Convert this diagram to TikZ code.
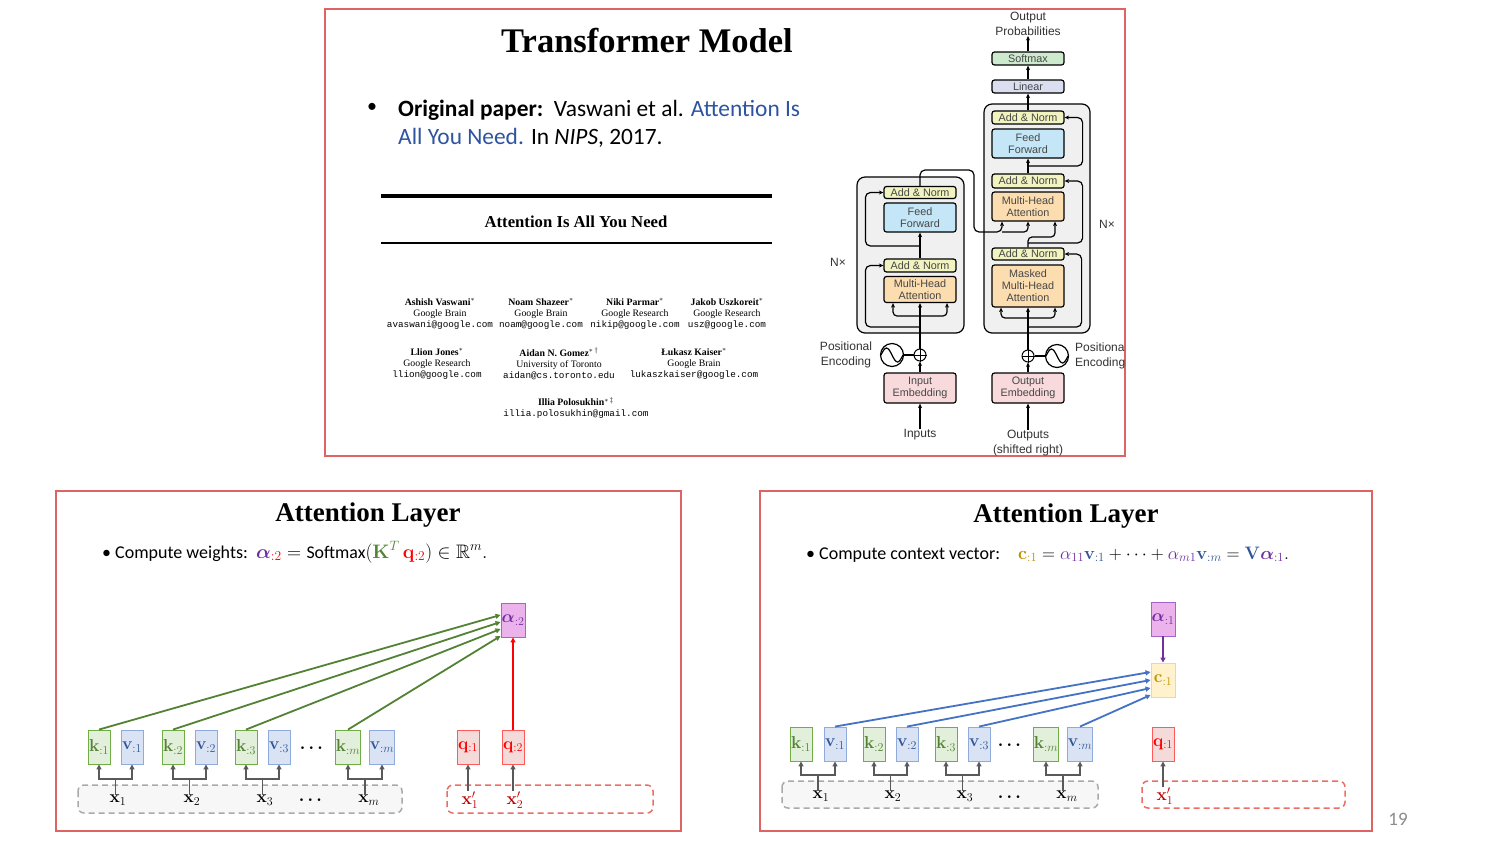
\documentclass[tikz,border=0pt]{standalone}
\usepackage{amsmath}
\usepackage{amssymb}
\usepackage{bm}
\usepackage{graphicx}
\usepackage[no-math]{fontspec}
\setmainfont{Carlito}
\newfontfamily\helvfont{Liberation Sans}
\newfontfamily\timesfont{Liberation Serif}
\newfontfamily\courfont{Liberation Mono}
\usetikzlibrary{arrows.meta,calc}

\definecolor{panelred}{RGB}{222,100,100}
\definecolor{linkblue}{RGB}{46,84,161}
\definecolor{apurple}{RGB}{112,48,160}
\definecolor{qred}{RGB}{255,0,0}
\definecolor{xred}{RGB}{192,0,0}
\definecolor{kgreen}{RGB}{84,130,53}
\definecolor{vblue}{RGB}{47,85,151}
\definecolor{varrowblue}{RGB}{68,114,196}
\definecolor{cgold}{RGB}{191,144,0}
\definecolor{kfill}{RGB}{226,239,218}
\definecolor{kborder}{RGB}{112,173,71}
\definecolor{vfill}{RGB}{218,227,243}
\definecolor{vborder}{RGB}{143,170,220}
\definecolor{qfill}{RGB}{245,218,218}
\definecolor{qborder}{RGB}{255,90,90}
\definecolor{afill}{RGB}{236,178,236}
\definecolor{aborder}{RGB}{165,100,200}
\definecolor{cfill}{RGB}{255,242,204}
\definecolor{cborder}{RGB}{255,217,102}
\definecolor{arrowgray}{RGB}{89,89,89}
\definecolor{dashgray}{RGB}{170,170,170}
\definecolor{dashfill}{RGB}{247,247,247}
\definecolor{dashred}{RGB}{235,110,100}
\definecolor{anfill}{RGB}{241,243,192}
\definecolor{fffill}{RGB}{196,230,246}
\definecolor{mhafill}{RGB}{252,221,176}
\definecolor{embfill}{RGB}{248,218,220}
\definecolor{smfill}{RGB}{206,234,206}
\definecolor{linfill}{RGB}{218,222,240}
\definecolor{blockgray}{RGB}{240,240,240}

\begin{document}
\begin{tikzpicture}[x=1pt,y=-1pt]
			\tikzstyle{every node}+=[inner sep=0pt]
			\tikzstyle{panel}=[draw=panelred, line width=1.3pt]
			\tikzstyle{tbox}=[draw, line width=1.2pt, rounded corners=2.5pt, minimum width=72pt, align=center, font=\helvfont\fontsize{10.8}{12}\selectfont, text=black!72]
			\tikzstyle{tarrow}=[line width=1.2pt, -{Stealth[length=4.5pt,width=4pt]}]
			\tikzstyle{tline}=[line width=1.2pt]
			\tikzstyle{ttext}=[font=\helvfont\fontsize{12}{15}\selectfont, text=black!80, align=center]
			\tikzstyle{author}=[align=center, font=\timesfont\fontsize{9.8}{11}\selectfont]
			\tikzstyle{kbox}=[draw=kborder, fill=kfill, line width=0.9pt, minimum width=22pt, minimum height=34pt, text=kgreen, font=\fontsize{17.28}{19}\selectfont]
			\tikzstyle{vbox}=[draw=vborder, fill=vfill, line width=0.9pt, minimum width=22pt, minimum height=34pt, text=vblue, font=\fontsize{17.28}{19}\selectfont]
			\tikzstyle{qbox}=[draw=qborder, fill=qfill, line width=0.9pt, minimum width=22pt, minimum height=34pt, text=qred, font=\fontsize{17.28}{19}\selectfont]
			\tikzstyle{abox}=[draw=aborder, fill=afill, line width=0.9pt, minimum width=24pt, minimum height=34pt, text=apurple, font=\fontsize{17.28}{19}\selectfont]
			\tikzstyle{cbox}=[draw=cborder, fill=cfill, line width=0.9pt, minimum width=24pt, minimum height=34pt, text=cgold, font=\fontsize{17.28}{19}\selectfont]
			\tikzstyle{xlbl}=[font=\fontsize{17.28}{20}\selectfont]
			\tikzstyle{dotlbl}=[font=\fontsize{17.28}{20}\selectfont]
			\tikzstyle{garrow}=[draw=arrowgray, line width=1.8pt, -{Triangle[length=5pt,width=5pt]}]
			\tikzstyle{karrow}=[draw=kgreen, line width=1.8pt, -{Triangle[length=5pt,width=5pt]}]
			\tikzstyle{varrow}=[draw=varrowblue, line width=1.8pt, -{Triangle[length=5pt,width=5pt]}]
			\tikzstyle{qarrow}=[draw=qred, line width=1.8pt, -{Triangle[length=5pt,width=5pt]}]
			\tikzstyle{parrow}=[draw=apurple, line width=1.8pt, -{Triangle[length=5pt,width=5pt]}]
			\tikzstyle{gdash}=[draw=dashgray, fill=dashfill, line width=1.5pt, dash pattern=on 6pt off 4pt, rounded corners=6pt]
			\tikzstyle{rdash}=[draw=dashred, line width=1.5pt, dash pattern=on 6pt off 4pt, rounded corners=6pt]
			\useasboundingbox [fill=white] (0,0) rectangle (1511,847);
			% top panel
			\draw [panel] (325,9) rectangle (1125,456);
			\node [anchor=base, font=\timesfont\bfseries\fontsize{34.5}{38}\selectfont] (mainTitle) at (647,52) {Transformer Model};
			\node [font=\fontsize{20}{22}\selectfont] (bullet) at (372,108) {•};
			\node [anchor=base west, font=\fontsize{23.4}{28}\selectfont] (paperLineA) at (398,116) {\textbf{Original paper:}\ \ Vaswani et al. \textcolor{linkblue}{Attention Is}};
			\node [anchor=base west, font=\fontsize{23.4}{28}\selectfont] (paperLineB) at (398,144) {\textcolor{linkblue}{All You Need.} In \textit{NIPS}, 2017.};
			\draw [line width=3.5pt] (381,196) -- (772,196);
			\node [font=\timesfont\bfseries\fontsize{16.7}{18}\selectfont] (paperTitle) at (576,222) {Attention Is All You Need};
			\draw [line width=1.2pt] (381,243) -- (772,243);
			\node [author] (vaswani) at (440,314) {\textbf{Ashish Vaswani}$^{*}$\\Google Brain\\{\courfont\fontsize{9.3}{11}\selectfont avaswani@google.com}};
			\node [author] (shazeer) at (541,314) {\textbf{Noam Shazeer}$^{*}$\\Google Brain\\{\courfont\fontsize{9.3}{11}\selectfont noam@google.com}};
			\node [author] (parmar) at (635,314) {\textbf{Niki Parmar}$^{*}$\\Google Research\\{\courfont\fontsize{9.3}{11}\selectfont nikip@google.com}};
			\node [author] (uszkoreit) at (727,314) {\textbf{Jakob Uszkoreit}$^{*}$\\Google Research\\{\courfont\fontsize{9.3}{11}\selectfont usz@google.com}};
			\node [author] (jones) at (437,364) {\textbf{Llion Jones}$^{*}$\\Google Research\\{\courfont\fontsize{9.3}{11}\selectfont llion@google.com}};
			\node [author] (gomez) at (559,364) {\textbf{Aidan N. Gomez}$^{*\,\dagger}$\\University of Toronto\\{\courfont\fontsize{9.3}{11}\selectfont aidan@cs.toronto.edu}};
			\node [author] (kaiser) at (694,364) {\textbf{Łukasz Kaiser}$^{*}$\\Google Brain\\{\courfont\fontsize{9.3}{11}\selectfont lukaszkaiser@google.com}};
			\node [author] (polosukhin) at (576,408) {\textbf{Illia Polosukhin}$^{*\,\ddagger}$\\{\courfont\fontsize{9.3}{11}\selectfont illia.polosukhin@gmail.com}};
			% transformer blocks
			\draw [fill=blockgray, line width=1.2pt, rounded corners=8pt] (857,177) rectangle (964,333);
			\draw [fill=blockgray, line width=1.2pt, rounded corners=8pt] (984,104) rectangle (1090,333);
			\node [tbox, fill=anfill, minimum height=12pt] (encAN1) at (920,192.5) {Add \& Norm};
			\node [tbox, fill=fffill, minimum height=29pt] (encFF) at (920,217.5) {Feed\\Forward};
			\node [tbox, fill=anfill, minimum height=13pt] (encAN2) at (920,265.5) {Add \& Norm};
			\node [tbox, fill=mhafill, minimum height=26pt] (encMHA) at (920,289.5) {Multi-Head\\Attention};
			\node [tbox, fill=embfill, minimum height=30pt] (inEmb) at (920,388) {Input\\Embedding};
			\node [tbox, fill=smfill, minimum height=13pt] (softmax) at (1028,58.5) {Softmax};
			\node [tbox, fill=linfill, minimum height=13pt] (linear) at (1028,86.5) {Linear};
			\node [tbox, fill=anfill, minimum height=13pt] (decAN1) at (1028,117.5) {Add \& Norm};
			\node [tbox, fill=fffill, minimum height=29pt] (decFF) at (1028,143.5) {Feed\\Forward};
			\node [tbox, fill=anfill, minimum height=14pt] (decAN2) at (1028,181) {Add \& Norm};
			\node [tbox, fill=mhafill, minimum height=29pt] (decMHA) at (1028,206.5) {Multi-Head\\Attention};
			\node [tbox, fill=anfill, minimum height=12pt] (decAN3) at (1028,254) {Add \& Norm};
			\node [tbox, fill=mhafill, minimum height=42pt] (decMMHA) at (1028,286) {Masked\\Multi-Head\\Attention};
			\node [tbox, fill=embfill, minimum height=30pt] (outEmb) at (1028,388) {Output\\Embedding};
			\node [draw, circle, line width=1pt, minimum size=12pt] (encPlus) at (920,355) {};
			\draw [line width=1pt] (encPlus.north) -- (encPlus.south) (encPlus.west) -- (encPlus.east);
			\node [draw, circle, line width=1.2pt, minimum size=23pt] (encSin) at (892,355) {};
			\draw [line width=1.2pt] ($(encSin.center)+(-11,0)$) sin ++(5.5,-7) cos ++(5.5,7) sin ++(5.5,7) cos ++(5.5,-7);
			\node [draw, circle, line width=1pt, minimum size=12pt] (decPlus) at (1028,356) {};
			\draw [line width=1pt] (decPlus.north) -- (decPlus.south) (decPlus.west) -- (decPlus.east);
			\node [draw, circle, line width=1.2pt, minimum size=23pt] (decSin) at (1057,356) {};
			\draw [line width=1.2pt] ($(decSin.center)+(-11,0)$) sin ++(5.5,-7) cos ++(5.5,7) sin ++(5.5,7) cos ++(5.5,-7);
			\node [ttext] (outProb) at (1028,24) {Output\\Probabilities};
			\node [ttext] (inputs) at (920,435) {Inputs};
			\node [ttext] (outputs) at (1028,443) {Outputs\\(shifted right)};
			\node [ttext] (encPE) at (846,355) {Positional\\Encoding};
			\node [ttext] (encN) at (838,262) {N×};
			\node [ttext] (decN) at (1107,224) {N×};
			\begin{scope}
			\clip (1060,330) rectangle (1124,380);
			\node [ttext, align=left, anchor=west] (decPE) at (1075,356) {Positional\\Encoding};
			\end{scope}
			% encoder flow
			\draw [tarrow] (inputs) -- (inEmb);
			\draw [tarrow] (inEmb) -- (encPlus);
			\draw [tline] (encSin) -- (encPlus);
			\draw [tarrow] (encPlus) -- (encMHA);
			\coordinate (encBr) at (920,316);
			\draw [tarrow, rounded corners=4pt] (encBr) -| ([xshift=-27pt]encMHA.south);
			\draw [tarrow, rounded corners=4pt] (encBr) -| ([xshift=27pt]encMHA.south);
			\coordinate (encR2) at (920,327);
			\draw [tarrow, rounded corners=5pt] (encR2) -| ([xshift=-18pt]encAN2.west) -- (encAN2.west);
			\draw [tarrow] (encAN2) -- (encFF);
			\coordinate (encR1) at (920,246);
			\draw [tarrow, rounded corners=5pt] (encR1) -| ([xshift=-18pt]encAN1.west) -- (encAN1.west);
			\coordinate (kv) at (1002,232);
			\draw [tarrow, rounded corners=5pt] (encAN1.north) |- (974,170) |- (kv) -- ([xshift=-26pt]decMHA.south);
			\draw [tarrow, rounded corners=4pt] (kv) -| (decMHA.south);
			% decoder flow
			\draw [tarrow] (outputs) -- (outEmb);
			\draw [tarrow] (outEmb) -- (decPlus);
			\draw [tline] (decPlus) -- (decSin);
			\draw [tarrow] (decPlus) -- (decMMHA);
			\coordinate (decBr) at (1028,318);
			\draw [tarrow, rounded corners=4pt] (decBr) -| ([xshift=-27pt]decMMHA.south);
			\draw [tarrow, rounded corners=4pt] (decBr) -| ([xshift=27pt]decMMHA.south);
			\coordinate (decR3) at (1028,327);
			\draw [tarrow, rounded corners=5pt] (decR3) -| ([xshift=17pt]decAN3.east) -- (decAN3.east);
			\draw [tarrow, rounded corners=4pt] (decAN3.north) |- (1042,237) -| ([xshift=27pt]decMHA.south);
			\coordinate (decR2) at (1028,243);
			\draw [tarrow, rounded corners=5pt] (decR2) -| ([xshift=18pt]decAN2.east) -- (decAN2.east);
			\draw [tarrow] (decAN2) -- (decFF);
			\coordinate (decR1) at (1028,166);
			\draw [tarrow, rounded corners=5pt] (decR1) -| ([xshift=18pt]decAN1.east) -- (decAN1.east);
			\draw [tarrow] (decAN1) -- (linear);
			\draw [tarrow] (linear) -- (softmax);
			\draw [tarrow] (softmax) -- (outProb);
			% bottom left panel
			\draw [panel] (56,491) rectangle (681,831);
			\node [anchor=base, font=\timesfont\bfseries\fontsize{27}{30}\selectfont] (titleA) at (368,521) {Attention Layer};
			\node [anchor=base west, font=\fontsize{18}{22}\selectfont] (formulaA) at (102,558) {•\ Compute weights:\ \ \scalebox{0.94}{\fontsize{20.74}{22}\selectfont$ {\color{apurple}\bm{\alpha}_{\color{qred}:2}} = \text{\fontsize{19}{22}\selectfont Softmax}({\color{kgreen}\mathbf{K}^{T}}\,{\color{qred}\mathbf{q}_{:2}}) \in \mathbb{R}^{m}.$}};
			\draw [gdash] (78,785) rectangle (402,813);
			\draw [rdash] (447,785) rectangle (653,813);
			\node [kbox] (ka1) at (99,747) {$\mathbf{k}_{:1}$};
			\node [vbox] (va1) at (132,747) {$\mathbf{v}_{:1}$};
			\node [kbox] (ka2) at (173,747) {$\mathbf{k}_{:2}$};
			\node [vbox] (va2) at (206,747) {$\mathbf{v}_{:2}$};
			\node [kbox] (ka3) at (246,747) {$\mathbf{k}_{:3}$};
			\node [vbox] (va3) at (279,747) {$\mathbf{v}_{:3}$};
			\node [dotlbl] (dotsA) at (313,748) {$\bm{\cdots}$};
			\node [kbox] (kam) at (348,747) {$\mathbf{k}_{:m}$};
			\node [vbox] (vam) at (382,747) {$\mathbf{v}_{:m}$};
			\node [qbox] (qa1) at (468,747) {$\mathbf{q}_{:1}$};
			\node [qbox] (qa2) at (513,747) {$\mathbf{q}_{:2}$};
			\node [abox] (alphaA) at (513,620) {$\bm{\alpha}_{:2}$};
			\node [xlbl] (xa1) at (118,800) {$\mathbf{x}_{1}$};
			\node [xlbl] (xa2) at (192,800) {$\mathbf{x}_{2}$};
			\node [xlbl] (xa3) at (265,800) {$\mathbf{x}_{3}$};
			\node [dotlbl] (xdotsA) at (312,800) {$\bm{\cdots}$};
			\node [xlbl] (xam) at (369,800) {$\mathbf{x}_{m}$};
			\node [xlbl, text=xred] (xpa1) at (470,800) {$\mathbf{x}'_{1}$};
			\node [xlbl, text=xred] (xpa2) at (515,800) {$\mathbf{x}'_{2}$};
			\coordinate (sa1) at (115.5,779);
			\coordinate (sa2) at (189.5,779);
			\coordinate (sa3) at (262.5,779);
			\coordinate (sam) at (365,779);
			\draw [garrow] (xa1.north -| sa1) -- (sa1) -| (ka1.south);
			\draw [garrow] (sa1) -| (va1.south);
			\draw [garrow] (xa2.north -| sa2) -- (sa2) -| (ka2.south);
			\draw [garrow] (sa2) -| (va2.south);
			\draw [garrow] (xa3.north -| sa3) -- (sa3) -| (ka3.south);
			\draw [garrow] (sa3) -| (va3.south);
			\draw [garrow] (xam.north -| sam) -- (sam) -| (kam.south);
			\draw [garrow] (sam) -| (vam.south);
			\draw [garrow] (xpa1.north -| qa1.south) -- (qa1.south);
			\draw [garrow] (xpa2.north -| qa2.south) -- (qa2.south);
			\draw [karrow] (ka1.north) -- ([yshift=5pt]alphaA.west);
			\draw [karrow] (ka2.north) -- ([yshift=-2pt]alphaA.west);
			\draw [karrow] (ka3.north) -- ([yshift=-9pt]alphaA.west);
			\draw [karrow] (kam.north) -- ([yshift=-16pt]alphaA.west);
			\draw [qarrow] (qa2) -- (alphaA);
			% bottom right panel
			\draw [panel] (760,491) rectangle (1372,831);
			\node [anchor=base, font=\timesfont\bfseries\fontsize{27}{30}\selectfont] (titleB) at (1066,522) {Attention Layer};
			\node [anchor=base west, font=\fontsize{18}{22}\selectfont] (formulaB) at (806,559) {•\ Compute context vector:\quad \scalebox{0.87}{\fontsize{20.74}{22}\selectfont$ {\color{cgold}\mathbf{c}_{:1}} = {\color{apurple}\alpha_{11}}{\color{vblue}\mathbf{v}_{:1}} + \cdots + {\color{apurple}\alpha_{m1}}{\color{vblue}\mathbf{v}_{:m}} = {\color{vblue}\mathbf{V}}{\color{apurple}\bm{\alpha}_{:1}}.$}};
			\draw [gdash] (782,781) rectangle (1098,808);
			\draw [rdash] (1142,781) rectangle (1345,808);
			\node [kbox] (kb1) at (801,744) {$\mathbf{k}_{:1}$};
			\node [vbox] (vb1) at (835,744) {$\mathbf{v}_{:1}$};
			\node [kbox] (kb2) at (874,744) {$\mathbf{k}_{:2}$};
			\node [vbox] (vb2) at (907,744) {$\mathbf{v}_{:2}$};
			\node [kbox] (kb3) at (946,744) {$\mathbf{k}_{:3}$};
			\node [vbox] (vb3) at (979,744) {$\mathbf{v}_{:3}$};
			\node [dotlbl] (dotsB) at (1011,745) {$\bm{\cdots}$};
			\node [kbox] (kbm) at (1046,744) {$\mathbf{k}_{:m}$};
			\node [vbox] (vbm) at (1080,744) {$\mathbf{v}_{:m}$};
			\node [qbox] (qb1) at (1163,744) {$\mathbf{q}_{:1}$};
			\node [abox] (alphaB) at (1163,619) {$\bm{\alpha}_{:1}$};
			\node [cbox] (ctxB) at (1163,680) {$\mathbf{c}_{:1}$};
			\node [xlbl] (xb1) at (821,796) {$\mathbf{x}_{1}$};
			\node [xlbl] (xb2) at (893,796) {$\mathbf{x}_{2}$};
			\node [xlbl] (xb3) at (965,796) {$\mathbf{x}_{3}$};
			\node [dotlbl] (xdotsB) at (1011,797) {$\bm{\cdots}$};
			\node [xlbl] (xbm) at (1067,796) {$\mathbf{x}_{m}$};
			\node [xlbl, text=xred] (xpb1) at (1165,796) {$\mathbf{x}'_{1}$};
			\coordinate (sb1) at (818,775);
			\coordinate (sb2) at (890.5,775);
			\coordinate (sb3) at (962.5,775);
			\coordinate (sbm) at (1063,775);
			\draw [garrow] (xb1.north -| sb1) -- (sb1) -| (kb1.south);
			\draw [garrow] (sb1) -| (vb1.south);
			\draw [garrow] (xb2.north -| sb2) -- (sb2) -| (kb2.south);
			\draw [garrow] (sb2) -| (vb2.south);
			\draw [garrow] (xb3.north -| sb3) -- (sb3) -| (kb3.south);
			\draw [garrow] (sb3) -| (vb3.south);
			\draw [garrow] (xbm.north -| sbm) -- (sbm) -| (kbm.south);
			\draw [garrow] (sbm) -| (vbm.south);
			\draw [garrow] (xpb1.north -| qb1.south) -- (qb1.south);
			\draw [varrow] (vb1.north) -- ([yshift=8pt]ctxB.west);
			\draw [varrow] (vb2.north) -- ([yshift=0pt]ctxB.west);
			\draw [varrow] (vb3.north) -- ([yshift=-8pt]ctxB.west);
			\draw [varrow] (vbm.north) -- ([yshift=-15pt]ctxB.west);
			\draw [parrow] (alphaB) -- (ctxB);
			\node [anchor=base, text=black!45, font=\fontsize{19}{22}\selectfont] (pageNum) at (1398,825) {19};
\end{tikzpicture}
\end{document}
